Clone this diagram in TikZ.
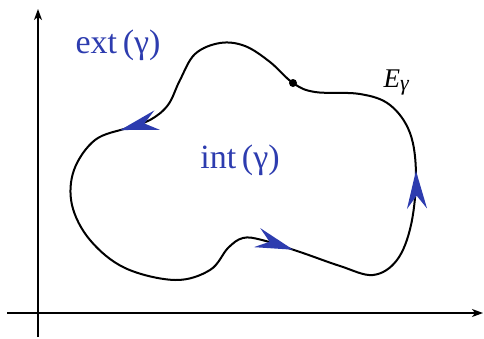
\documentclass[tikz,border=0pt]{standalone}
\usepackage{fontspec}
\setmainfont{Liberation Serif}
\usetikzlibrary{arrows.meta, decorations.markings}
\definecolor{arrowblue}{RGB}{45,60,175}

\begin{document}
\begin{tikzpicture}[x=1pt, y=-1pt]
    \useasboundingbox (0,0) rectangle (484,338);

    % Axes
    \coordinate (O) at (38,313);
    \coordinate (Xend) at (483,313);
    \coordinate (Xstart) at (7,313);
    \coordinate (Ystart) at (38,337);
    \coordinate (Yend) at (38,9);
    \draw[line width=1.3pt, -{Stealth[length=11pt, width=8pt, inset=3pt]}] (Xstart) -- (Xend);
    \draw[line width=1.3pt, -{Stealth[length=11pt, width=8pt, inset=3pt]}] (Ystart) -- (Yend);

    % The closed curve, with arrows showing its direction
    \draw[line width=2pt, tension=0.6,
          decoration={markings,
              mark=at position 0.20 with {\arrow[arrowblue]{Stealth[length=38pt, width=20pt, inset=13pt]}},
              mark=at position 0.58 with {\arrow[arrowblue]{Stealth[length=38pt, width=20pt, inset=13pt]}},
              mark=at position 0.79 with {\arrow[arrowblue]{Stealth[length=38pt, width=20pt, inset=13pt]}}},
          postaction={decorate}]
        plot[smooth cycle] coordinates {
            (293,83) (270,62) (245,46) (220,43) (195,54) (180,80) (168,105) (150,120)
            (127,128) (95,140) (74,170) (72,205) (90,240) (125,268) (175,280) (210,270)
            (228,248) (243,238) (262,240) (300,252) (340,266) (373,275) (397,260)
            (411,225) (416,175) (410,133) (390,105) (360,94) (315,92)};

    % Base point on the curve
    \fill (293,83) circle (4pt);

    % Labels
    \node[text=arrowblue, font=\fontsize{34}{36}\selectfont] (extlabel) at (118,45) {ext\,(γ)};
    \node[text=arrowblue, font=\fontsize{34}{36}\selectfont] (intlabel) at (240,160) {int\,(γ)};
    \node[font=\fontsize{27}{29}\selectfont\itshape, anchor=base west] (curvelabel) at (380,87) {E\raisebox{-0.3ex}{\fontsize{22}{24}\selectfont γ}};

\end{tikzpicture}
\end{document}
